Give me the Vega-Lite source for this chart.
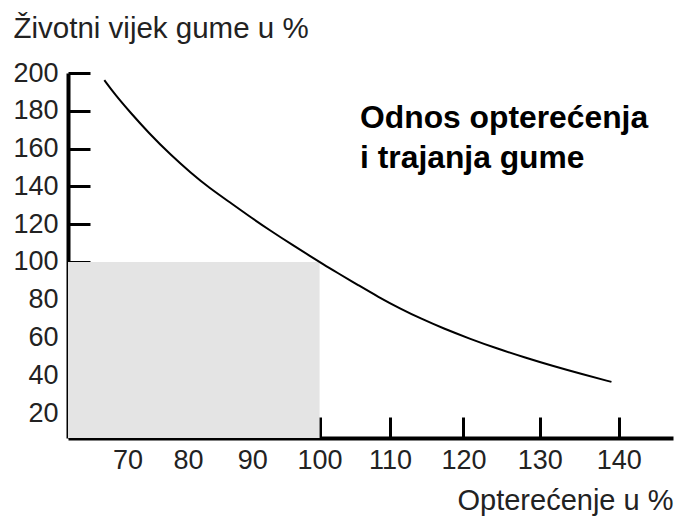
{
  "$schema": "https://vega.github.io/schema/vega-lite/v6.json",
  "width": 605,
  "height": 365,
  "autosize": {"type": "none"},
  "padding": {"left": 68, "top": 73, "right": 5, "bottom": 78},
  "background": "white",
  "config": {"view": {"stroke": null}},
  "datasets": {
    "curve": [
      {"load": 66.0, "life": 196.2},
      {"load": 67.9, "life": 188.4},
      {"load": 70.5, "life": 179.0},
      {"load": 73.5, "life": 168.5},
      {"load": 77.2, "life": 156.6},
      {"load": 80.5, "life": 147.0},
      {"load": 83.2, "life": 139.6},
      {"load": 87.1, "life": 130.3},
      {"load": 89.3, "life": 124.8},
      {"load": 92.8, "life": 116.4},
      {"load": 96.2, "life": 108.6},
      {"load": 98.6, "life": 103.2},
      {"load": 100.5, "life": 98.8},
      {"load": 102.4, "life": 94.6},
      {"load": 105.6, "life": 87.6},
      {"load": 108.3, "life": 81.6},
      {"load": 111.4, "life": 75.3},
      {"load": 114.3, "life": 69.9},
      {"load": 117.3, "life": 64.8},
      {"load": 120.8, "life": 59.4},
      {"load": 124.4, "life": 54.2},
      {"load": 128.0, "life": 49.5},
      {"load": 131.6, "life": 45.0},
      {"load": 135.4, "life": 40.6},
      {"load": 139.1, "life": 36.5}
    ],
    "zone": [
      {"load": 55, "load2": 100, "life": 0, "life2": 100}
    ],
    "note": [
      {"load": 105.8, "life": 170.7, "label": "Odnos opterećenja\ni trajanja gume"}
    ]
  },
  "encoding": {
    "x": {
      "field": "load",
      "type": "quantitative",
      "scale": {"type": "pow", "exponent": 1.45, "domain": [59.5, 146.7], "nice": false, "zero": false},
      "axis": {
        "title": "Opterećenje u %",
        "values": [70, 80, 90, 100, 110, 120, 130, 140],
        "grid": false,
        "domainColor": "black",
        "domainWidth": 4,
        "tickColor": "black",
        "tickWidth": 3,
        "tickSize": -21,
        "labelFont": "Liberation Sans",
        "labelFontSize": 27,
        "labelColor": "#222",
        "labelPadding": 30,
        "labelFlush": false,
        "titleFont": "Liberation Sans",
        "titleFontSize": 29,
        "titleFontWeight": "normal",
        "titleColor": "#222",
        "titleAnchor": "end",
        "titleAlign": "right",
        "titleBaseline": "alphabetic",
        "titleX": 605,
        "titleY": 71
      }
    },
    "y": {
      "field": "life",
      "type": "quantitative",
      "scale": {"domain": [6.8, 200], "nice": false, "zero": false},
      "axis": {
        "title": "Životni vijek gume u %",
        "values": [20, 40, 60, 80, 100, 120, 140, 160, 180, 200],
        "grid": false,
        "domainColor": "black",
        "domainWidth": 4,
        "tickColor": "black",
        "tickWidth": 3,
        "tickSize": -22,
        "labelFont": "Liberation Sans",
        "labelFontSize": 27,
        "labelColor": "#222",
        "labelPadding": 32,
        "labelFlush": false,
        "labelBaseline": "middle",
        "titleFont": "Liberation Sans",
        "titleFontSize": 29.5,
        "titleFontWeight": "normal",
        "titleColor": "#222",
        "titleAngle": 0,
        "titleAlign": "left",
        "titleBaseline": "alphabetic",
        "titleX": -55,
        "titleY": -36
      }
    }
  },
  "layer": [
    {
      "data": {"name": "zone"},
      "mark": {"type": "rect", "color": "#e4e4e4", "clip": true},
      "encoding": {
        "x2": {"field": "load2"},
        "y2": {"field": "life2"}
      }
    },
    {
      "data": {"name": "curve"},
      "mark": {"type": "line", "color": "black", "strokeWidth": 2, "interpolate": "basis"},
      "encoding": {}
    },
    {
      "data": {"name": "note"},
      "mark": {
        "type": "text",
        "align": "left",
        "baseline": "alphabetic",
        "font": "Liberation Sans",
        "fontWeight": "bold",
        "fontSize": 31.8,
        "lineBreak": "\n",
        "lineHeight": 40,
        "color": "black"
      },
      "encoding": {"text": {"field": "label"}}
    }
  ]
}
